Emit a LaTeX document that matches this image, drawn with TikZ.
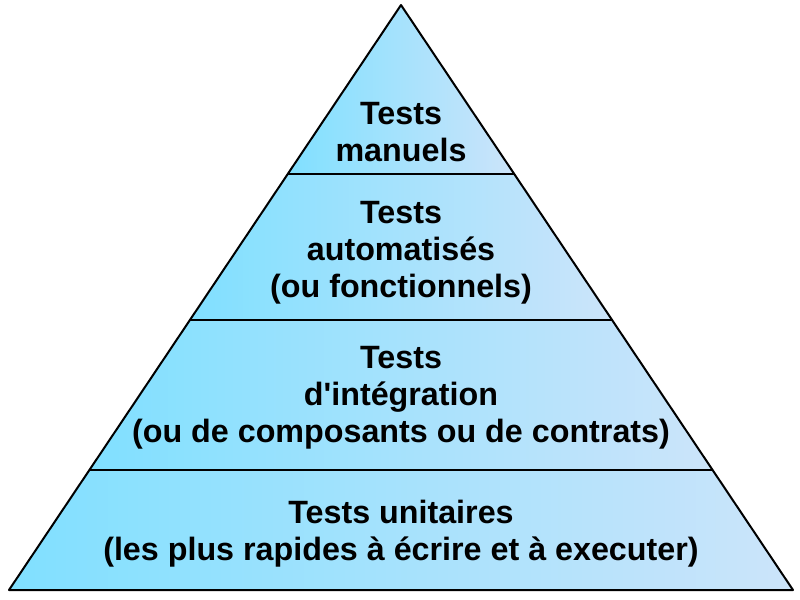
\documentclass[tikz,border=0pt]{standalone}
\usepackage{fontspec}
\setmainfont{Liberation Sans}
\begin{document}
\begin{tikzpicture}[x=0.75pt,y=-0.75pt,
  band/.style={left color=bandleft,right color=bandright},
  edge/.style={draw=black,line width=1.5pt,line join=round},
  sep/.style={draw=black,line width=1.5pt},
  lbl/.style={align=center,font=\bfseries\fontsize{24.2pt}{27.75pt}\selectfont,text=black,inner sep=0pt}]
\definecolor{bandleft}{RGB}{128,224,255}
\definecolor{bandright}{RGB}{204,228,250}
\useasboundingbox (0,0) rectangle (800,600);
\coordinate (apex) at (401,5);
\coordinate (bl) at (9,590);
\coordinate (br) at (793,590);
\coordinate (l1) at (287.8,174); \coordinate (r1) at (514.2,174);
\coordinate (l2) at (190,320);   \coordinate (r2) at (612,320);
\coordinate (l3) at (89.4,470);  \coordinate (r3) at (712.6,470);
\shade[band] (apex) -- (r1) -- (l1) -- cycle;
\shade[band] (l1) -- (r1) -- (r2) -- (l2) -- cycle;
\shade[band] (l2) -- (r2) -- (r3) -- (l3) -- cycle;
\shade[band] (l3) -- (r3) -- (br) -- (bl) -- cycle;
\path[sep] (l1) -- (r1);
\path[sep] (l2) -- (r2);
\path[sep] (l3) -- (r3);
\path[edge] (apex) -- (br) -- (bl) -- cycle;
\node[lbl] (t1) at (401,132) {Tests\\manuels};
\node[lbl] (t2) at (401,253) {Tests\\automatisés\\(ou fonctionnels)};
\node[lbl] (t3) at (401,398) {Tests\\d\textquotesingle intégration\\(ou de composants ou de contrats)};
\node[lbl] (t4) at (401,534) {Tests unitaires\\(les plus rapides à écrire et à executer)};
\end{tikzpicture}
\end{document}
